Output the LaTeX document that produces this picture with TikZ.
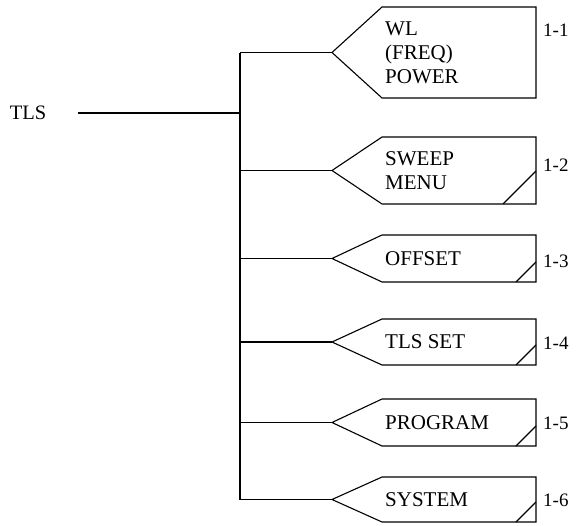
\documentclass[tikz,border=0pt]{standalone}
\usepackage{fontspec}
\setmainfont{Liberation Serif}
\usetikzlibrary{calc}
\begin{document}
\begin{tikzpicture}[x=1pt,y=-1pt,
  wire/.style={draw=black, line width=1.1pt},
  boxtext/.style={font=\fontsize{21}{24}\selectfont, align=left, anchor=west, inner sep=0pt},
  numlabel/.style={font=\fontsize{19}{22}\selectfont, anchor=west, inner sep=0pt},
  rootlabel/.style={font=\fontsize{20.5}{24}\selectfont, inner sep=0pt}]
\useasboundingbox (0,0) rectangle (578,525);
% bus
\coordinate (bus) at (240,0);
% root
\node[rootlabel] (tls) at (28,113) {TLS};
\coordinate (tlsend) at (78,113);
\draw[wire] (tlsend) -- (tlsend -| bus);
% boxes: name/top/bottom/diag/text/label/labely
\foreach \n/\t/\b/\d/\txt/\lab/\ly in {
  1/7/98/0/{WL\\(FREQ)\\POWER}/1-1/30,
  2/137/204/33/{SWEEP\\MENU}/1-2/165,
  3/235/282/20/{OFFSET}/1-3/261,
  4/319/365/20/{TLS SET}/1-4/343,
  5/399/446/20/{PROGRAM}/1-5/423,
  6/477/522/20/{SYSTEM}/1-6/500}{
  \coordinate (tip\n) at (332,{(\t+\b)/2});
  \coordinate (tl\n) at (382,\t);
  \coordinate (tr\n) at (536,\t);
  \coordinate (br\n) at (536,\b);
  \coordinate (bl\n) at (382,\b);
  \draw[wire, line join=miter] (tip\n) -- (tl\n) -- (tr\n) -- (br\n) -- (bl\n) -- cycle;
  \ifnum\d>0
    \draw[wire] ($(br\n)+(-\d,0)$) -- ($(br\n)+(0,-\d)$);
  \fi
  \node[boxtext] (txt\n) at (385,{(\t+\b)/2}) {\txt};
  \node[numlabel] (lab\n) at (543,\ly) {\lab};
  \draw[wire] (tip\n -| bus) -- (tip\n);
}
\draw[wire] (tip1 -| bus) -- (tip6 -| bus);
\end{tikzpicture}
\end{document}
